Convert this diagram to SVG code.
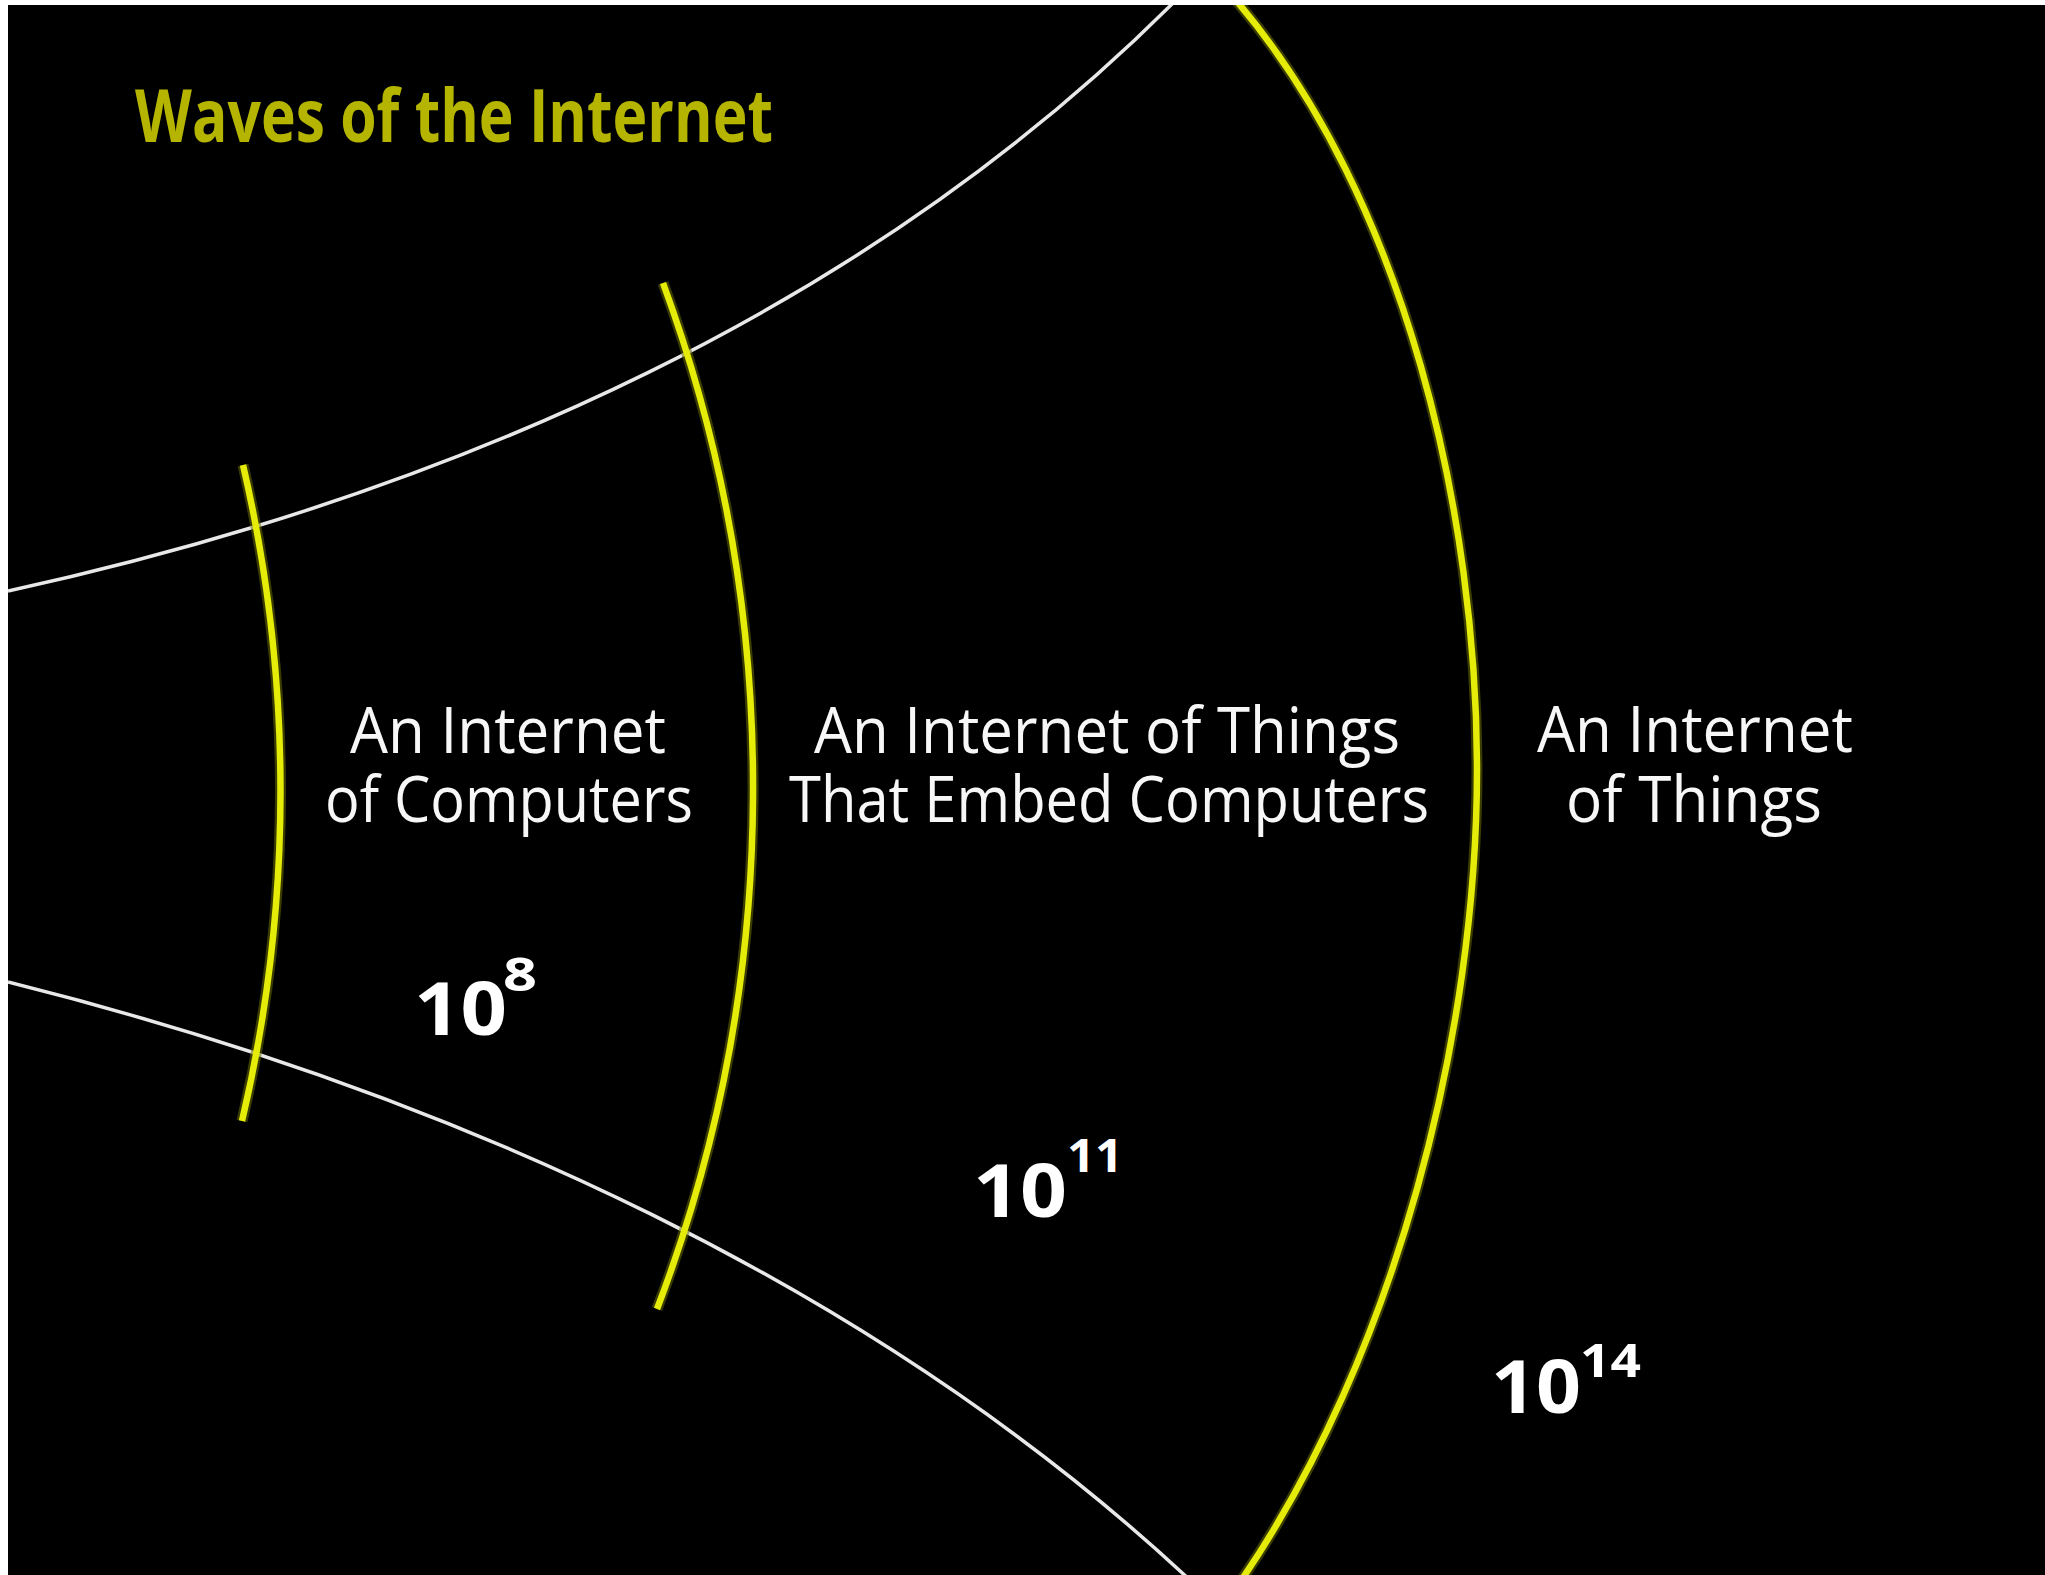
<svg xmlns="http://www.w3.org/2000/svg" width="2045" height="1575" viewBox="0 0 2045 1575">
  <defs>
    <clipPath id="panel">
      <rect x="8" y="5" width="2037" height="1570"/>
    </clipPath>
    <style>
      .white { fill: none; stroke: #E8E8E8; stroke-width: 3.5; }
      .glow { fill: none; stroke: #6B7000; stroke-width: 11; stroke-opacity: 0.55; }
      .wave { fill: none; stroke: #E4EC08; stroke-width: 6.5; }
      .label { font-family: "Open Sans", "Noto Sans", "Liberation Sans", sans-serif; font-size: 64px; font-weight: 400; fill: #F7F7F7; }
      .num { font-family: "Open Sans", "Noto Sans", "Liberation Sans", sans-serif; font-weight: 700; fill: #FFFFFF; }
      .big { font-size: 74px; }
      .sup { font-size: 46px; }
      .title { font-family: "Open Sans", "Noto Sans", "Liberation Sans", sans-serif; font-size: 73px; font-weight: 700; fill: #B5B500; }
    </style>
  </defs>
  <rect x="0" y="0" width="2045" height="1575" fill="#FFFFFF"/>
  <rect x="8" y="5" width="2037" height="1570" fill="#000000"/>

  <g id="connectors" clip-path="url(#panel)">
    <path class="white" d="M 8 591 C 459 492 872 306 1178 -2"/>
    <path class="white" d="M 8 982 C 460 1095 880 1290 1192 1582"/>
    <path class="glow" d="M 243 465 A 1435 1435 0 0 1 242 1121"/>
    <path class="wave" d="M 243 465 A 1435 1435 0 0 1 242 1121"/>
    <path class="glow" d="M 663 283 A 1461 1461 0 0 1 657 1309"/>
    <path class="wave" d="M 663 283 A 1461 1461 0 0 1 657 1309"/>
    <path class="glow" d="M 1234 -2 C 1408 200 1477 520 1477 770 C 1477 1030 1397 1355 1238 1585"/>
    <path class="wave" d="M 1234 -2 C 1408 200 1477 520 1477 770 C 1477 1030 1397 1355 1238 1585"/>
  </g>

  <g id="title">
    <text class="title" x="135" y="142" textLength="638" lengthAdjust="spacingAndGlyphs">Waves of the Internet</text>
  </g>

  <g id="wave-computers">
    <text class="label"><tspan x="350" y="753" textLength="316" lengthAdjust="spacingAndGlyphs">An Internet</tspan><tspan x="325" y="822" textLength="368" lengthAdjust="spacingAndGlyphs">of Computers</tspan></text>
  </g>

  <g id="wave-embedded">
    <text class="label"><tspan x="814" y="753" textLength="586" lengthAdjust="spacingAndGlyphs">An Internet of Things</tspan><tspan x="789" y="822" textLength="640" lengthAdjust="spacingAndGlyphs">That Embed Computers</tspan></text>
  </g>

  <g id="wave-things">
    <text class="label"><tspan x="1537" y="752" textLength="316" lengthAdjust="spacingAndGlyphs">An Internet</tspan><tspan x="1566" y="822" textLength="256" lengthAdjust="spacingAndGlyphs">of Things</tspan></text>
  </g>

  <g id="count-computers">
    <text class="num big" x="414" y="1035" textLength="93" lengthAdjust="spacingAndGlyphs">10</text>
    <text class="num sup" x="503" y="991" textLength="34" lengthAdjust="spacingAndGlyphs">8</text>
  </g>

  <g id="count-embedded">
    <text class="num big" x="973" y="1217" textLength="94" lengthAdjust="spacingAndGlyphs">10</text>
    <text class="num sup" x="1067" y="1172" textLength="56" lengthAdjust="spacingAndGlyphs">11</text>
  </g>

  <g id="count-things">
    <text class="num big" x="1491" y="1413" textLength="90" lengthAdjust="spacingAndGlyphs">10</text>
    <text class="num sup" x="1580" y="1377" textLength="61" lengthAdjust="spacingAndGlyphs">14</text>
  </g>
</svg>
